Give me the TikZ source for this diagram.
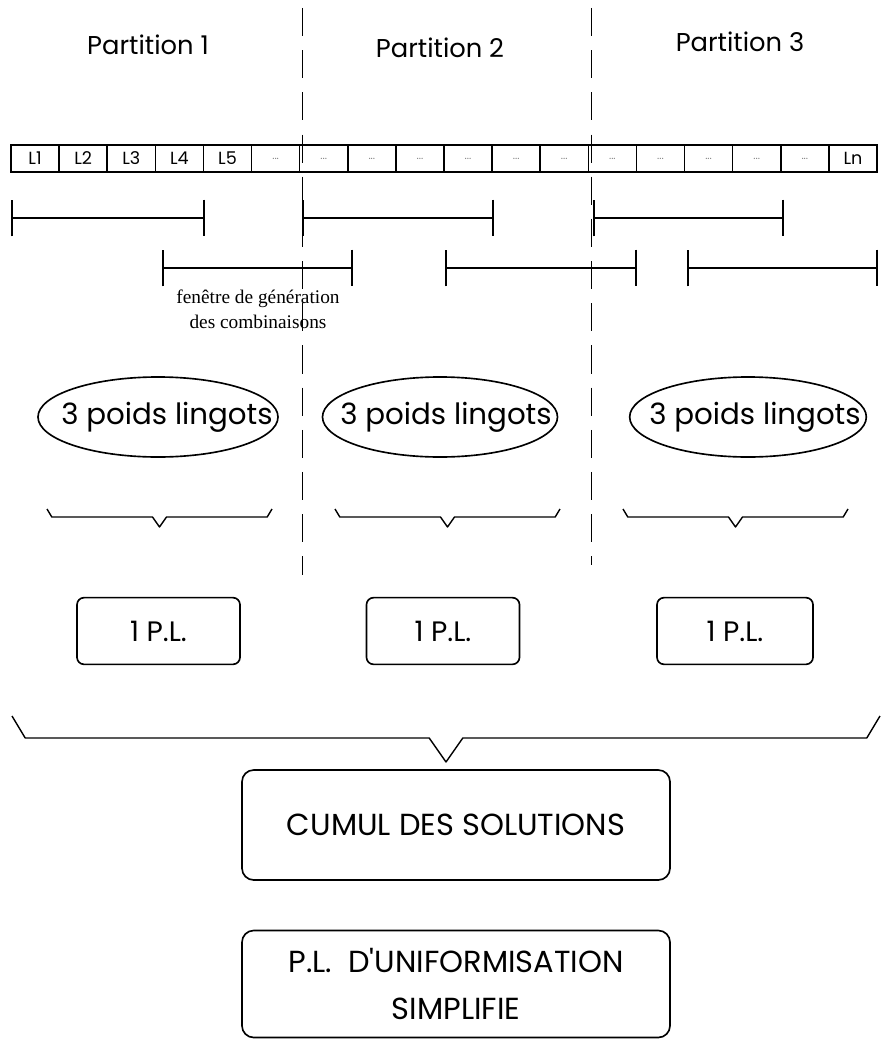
\documentclass[tikz,border=0pt]{standalone}
\usepackage{fontspec}
\setmainfont{Poppins}
\newfontfamily\serifnote{Liberation Serif}
\usepackage{tikz}
\usetikzlibrary{positioning,arrows.meta,shapes.geometric}
\tikzset{
  cell/.style={draw, line width=1.4pt, minimum width=1.443cm, minimum height=0.81cm,
    inner sep=0pt, font=\fontsize{15}{17}\selectfont},
  fenetre/.style={line width=1.5pt, {Bar[width=1.1cm]}-{Bar[width=1.1cm]}},
  accol/.style={line width=1.2pt, line join=round},
}
% accolade : x gauche, x droit, y, crochet, pointe
\newcommand{\accolade}[5]{%
  \draw[accol] (#1,#3-#4) -- (#1+#4*0.6,#3) -- ({(#1+#2)/2-#5*0.7},#3)
    -- ({(#1+#2)/2},#3+#5) -- ({(#1+#2)/2+#5*0.7},#3) -- (#2-#4*0.6,#3) -- (#2,#3-#4);}

\begin{document}
\begin{tikzpicture}[
  x=0.03cm, y=-0.03cm,
  separ/.style={line width=0.8pt, dash pattern=on 24pt off 12pt},
  lingots/.style={ellipse, draw, line width=1.4pt, minimum height=2.4cm, inner sep=0pt},
  poids/.style={font=\fontsize{25}{30}\selectfont, inner sep=0pt},
  plbox/.style={draw, rounded corners=6pt, line width=1.4pt, minimum height=2.0cm,
    font=\fontsize{24}{28}\selectfont},
  bigbox/.style={draw, rounded corners=10pt, line width=1.4pt, minimum width=12.84cm,
    align=center, font=\fontsize{26}{40}\selectfont}
]
\useasboundingbox (0,0) rectangle (891,1039);

% separations des partitions
\coordinate (s1a) at (302,8);
\coordinate (s1b) at (302,575);
\coordinate (s2a) at (591,8);
\coordinate (s2b) at (591,565);
\draw[separ] (s1a) -- (s1b);
\draw[separ] (s2a) -- (s2b);

\node[font=\fontsize{22}{26}\selectfont] (p1) at (148,45) {Partition 1};
\node[font=\fontsize{22}{26}\selectfont] (p2) at (440,48) {Partition 2};
\node[font=\fontsize{22}{26}\selectfont] (p3) at (740,42) {Partition 3};

% lingots
\foreach \i/\lab in {1/L1,2/L2,3/L3,4/L4,5/L5,6/,7/,8/,9/,10/,11/,12/,13/,14/,15/,16/,17/,18/Ln}
  \node[cell] (c\i) at ({11+(\i-0.5)*48.11},158.5) {\lab};
\foreach \i in {6,...,17}
  \node[font=\fontsize{9}{10}\selectfont, text=black!50] at (c\i) {...};

% fenetres
\draw[fenetre] (11,218) -- (205,218);
\draw[fenetre] (302,218) -- (494,218);
\draw[fenetre] (593,218) -- (784,218);
\draw[fenetre] (162,268) -- (353,268);
\draw[fenetre] (445,268) -- (637,268);
\draw[fenetre] (687,268) -- (878,268);
\node[font=\serifnote\fontsize{16.5}{21}\selectfont, align=center] (fen) at (258,309)
  {fenêtre de génération\\des combinaisons};

\node[lingots, minimum width=7.2cm] (e1) at (158,417) {};
\node[lingots, minimum width=7.05cm] (e2) at (440,417) {};
\node[lingots, minimum width=7.1cm] (e3) at (748,417) {};
\node[poids] (t1) at (167,417) {3 poids lingots};
\node[poids] (t2) at (446,417) {3 poids lingots};
\node[poids] (t3) at (755,417) {3 poids lingots};

\accolade{47}{272}{517}{8}{10}
\accolade{335}{560}{517}{8}{10}
\accolade{623}{848}{517}{8}{10}

\node[plbox, minimum width=4.89cm] (pl1) at (158.5,631) {1 P.L.};
\node[plbox, minimum width=4.59cm] (pl2) at (443,631) {1 P.L.};
\node[plbox, minimum width=4.68cm] (pl3) at (735,631) {1 P.L.};

\accolade{12}{880}{738}{22}{24}

\node[bigbox, minimum height=3.3cm] (cumul) at (456,825) {CUMUL DES SOLUTIONS};
\node[bigbox, minimum height=3.21cm] (unif) at (456,984) {P.L.~~D\textquotesingle UNIFORMISATION\\SIMPLIFIE};
\end{tikzpicture}
\end{document}
